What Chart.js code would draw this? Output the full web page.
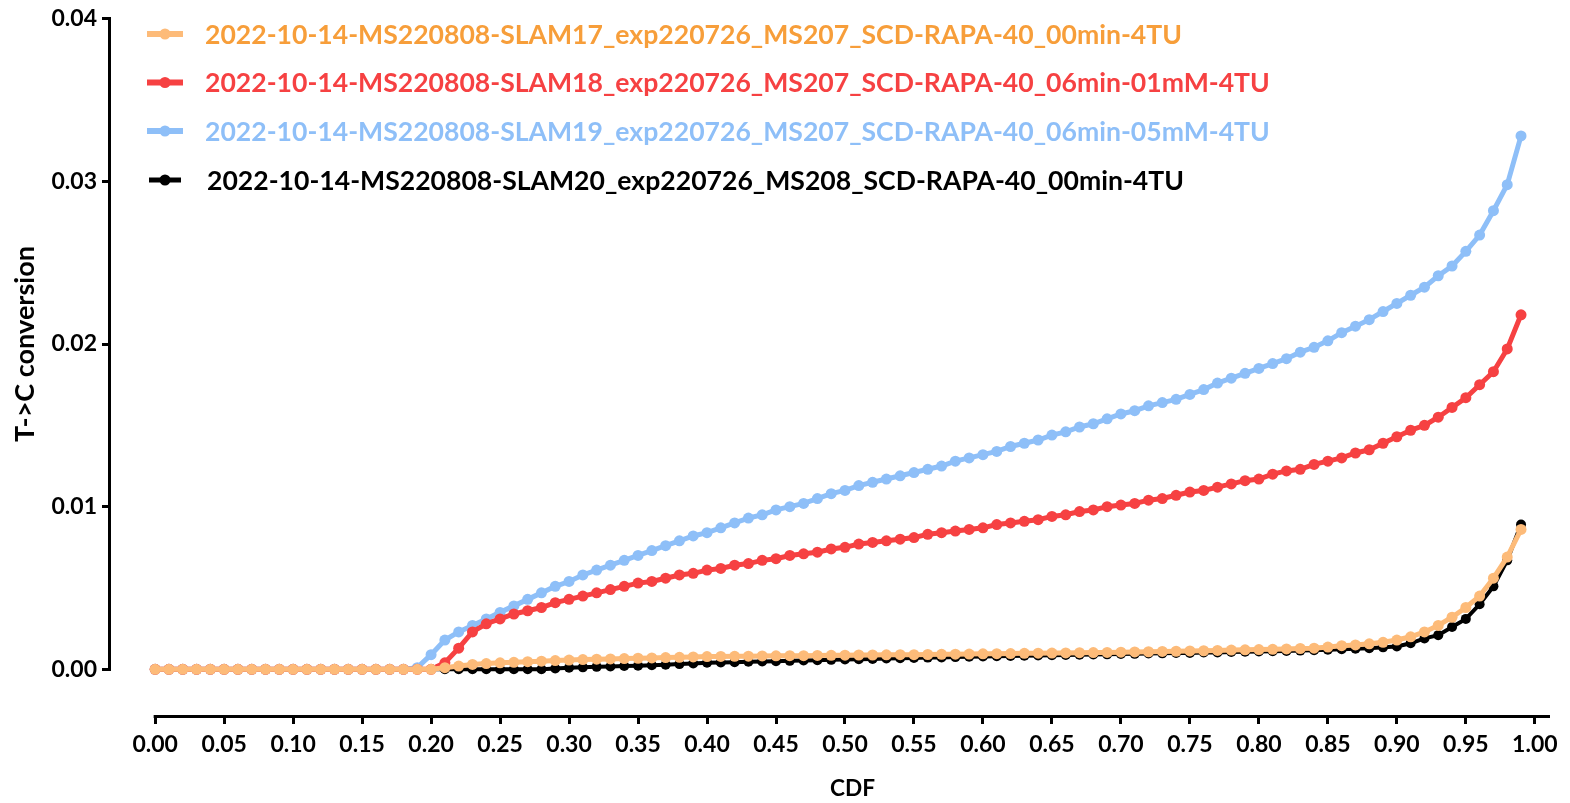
<!DOCTYPE html>
<html>
<head>
<meta charset="utf-8">
<script src="https://cdn.jsdelivr.net/npm/chart.js@4.4.0/dist/chart.umd.min.js"></script>
<style>
  html, body { margin: 0; padding: 0; background: #fff; }
  canvas { display: block; }
</style>
</head>
<body>
<canvas id="grafico" width="1570" height="803"></canvas>
<script>
// CDF positions (x)
const cdf = [
  0.00,0.01,0.02,0.03,0.04,0.05,0.06,0.07,0.08,0.09,
  0.10,0.11,0.12,0.13,0.14,0.15,0.16,0.17,0.18,0.19,
  0.20,0.21,0.22,0.23,0.24,0.25,0.26,0.27,0.28,0.29,
  0.30,0.31,0.32,0.33,0.34,0.35,0.36,0.37,0.38,0.39,
  0.40,0.41,0.42,0.43,0.44,0.45,0.46,0.47,0.48,0.49,
  0.50,0.51,0.52,0.53,0.54,0.55,0.56,0.57,0.58,0.59,
  0.60,0.61,0.62,0.63,0.64,0.65,0.66,0.67,0.68,0.69,
  0.70,0.71,0.72,0.73,0.74,0.75,0.76,0.77,0.78,0.79,
  0.80,0.81,0.82,0.83,0.84,0.85,0.86,0.87,0.88,0.89,
  0.90,0.91,0.92,0.93,0.94,0.95,0.96,0.97,0.98,0.99
];

// T->C conversion per sample
const slam17 = [
  0,0,0,0,0,0,0,0,0,0,
  0,0,0,0,0,0,0,0,0,0,
  0,0.0001,0.0002,0.0003,0.00035,0.0004,0.00043,0.00047,0.0005,0.00054,
  0.00057,0.0006,0.00062,0.00064,0.00066,0.00068,0.0007,0.00072,0.00074,0.00076,
  0.00078,0.00079,0.0008,0.00081,0.00082,0.00083,0.00084,0.00084,0.00085,0.00086,
  0.00087,0.00088,0.00088,0.00089,0.0009,0.0009,0.00091,0.00092,0.00093,0.00094,
  0.00095,0.00096,0.00097,0.00098,0.00099,0.001,0.00101,0.00102,0.00103,0.00104,
  0.00105,0.00107,0.00108,0.0011,0.00111,0.00113,0.00114,0.00116,0.00118,0.0012,
  0.00121,0.00123,0.00125,0.00128,0.0013,0.00137,0.00145,0.0015,0.00157,0.00166,
  0.0018,0.002,0.0023,0.0027,0.0032,0.0038,0.0045,0.0056,0.0069,0.0086
];
const slam18 = [
  0,0,0,0,0,0,0,0,0,0,
  0,0,0,0,0,0,0,0,0,0,
  0,0.0004,0.0013,0.0023,0.0028,0.0031,0.0034,0.0036,0.0038,0.0041,
  0.0043,0.0045,0.0047,0.0049,0.0051,0.0053,0.0054,0.0056,0.0058,0.0059,
  0.0061,0.0062,0.0064,0.0065,0.0067,0.0068,0.0070,0.0071,0.0072,0.0074,
  0.0075,0.0077,0.0078,0.0079,0.0080,0.0081,0.0083,0.0084,0.0085,0.0086,
  0.0087,0.0089,0.0090,0.0091,0.0092,0.0094,0.0095,0.0097,0.0098,0.0100,
  0.0101,0.0102,0.0104,0.0105,0.0107,0.0109,0.0110,0.0112,0.0114,0.0116,
  0.0117,0.0120,0.0122,0.0123,0.0126,0.0128,0.0130,0.0133,0.0135,0.0139,
  0.0143,0.0147,0.0150,0.0155,0.0161,0.0167,0.0175,0.0183,0.0197,0.0218
];
const slam19 = [
  0,0,0,0,0,0,0,0,0,0,
  0,0,0,0,0,0,0,0,0,0.0001,
  0.0009,0.0018,0.0023,0.0027,0.0031,0.0035,0.0039,0.0043,0.0047,0.0051,
  0.0054,0.0058,0.0061,0.0064,0.0067,0.0070,0.0073,0.0076,0.0079,0.0082,
  0.0084,0.0087,0.0090,0.0093,0.0095,0.0098,0.0100,0.0102,0.0105,0.0108,
  0.0110,0.0113,0.0115,0.0117,0.0119,0.0121,0.0123,0.0125,0.0128,0.0130,
  0.0132,0.0134,0.0137,0.0139,0.0141,0.0144,0.0146,0.0149,0.0151,0.0154,
  0.0157,0.0159,0.0162,0.0164,0.0166,0.0169,0.0172,0.0176,0.0179,0.0182,
  0.0185,0.0188,0.0191,0.0195,0.0198,0.0202,0.0207,0.0211,0.0215,0.0220,
  0.0225,0.0230,0.0235,0.0242,0.0248,0.0257,0.0267,0.0282,0.0298,0.0328
];
const slam20 = [
  0,0,0,0,0,0,0,0,0,0,
  0,0,0,0,0,0,0,0,0,0,
  0,0,0,0,0,0,0,0,0,0.00005,
  0.0001,0.00012,0.00015,0.00017,0.0002,0.00022,0.00025,0.00028,0.00032,0.00036,
  0.0004,0.00042,0.00044,0.00046,0.00048,0.0005,0.00052,0.00054,0.00056,0.00058,
  0.0006,0.00062,0.00064,0.00066,0.00068,0.0007,0.00072,0.00073,0.00075,0.00077,
  0.00079,0.0008,0.00082,0.00083,0.00085,0.00086,0.00088,0.00089,0.00091,0.00092,
  0.00094,0.00095,0.00097,0.00098,0.001,0.00101,0.00103,0.00104,0.00106,0.00108,
  0.0011,0.00111,0.00113,0.00115,0.00117,0.0012,0.00123,0.00126,0.0013,0.00135,
  0.0014,0.0016,0.0019,0.0021,0.0026,0.0031,0.004,0.0051,0.0067,0.0089
];

const nomes = [
  '2022-10-14-MS220808-SLAM17_exp220726_MS207_SCD-RAPA-40_00min-4TU',
  '2022-10-14-MS220808-SLAM18_exp220726_MS207_SCD-RAPA-40_06min-01mM-4TU',
  '2022-10-14-MS220808-SLAM19_exp220726_MS207_SCD-RAPA-40_06min-05mM-4TU',
  '2022-10-14-MS220808-SLAM20_exp220726_MS208_SCD-RAPA-40_00min-4TU'
];

// tick labels
const xTicks = [0,0.05,0.10,0.15,0.20,0.25,0.30,0.35,0.40,0.45,0.50,0.55,0.60,0.65,0.70,0.75,0.80,0.85,0.90,0.95,1.00];
const yTicks = [0,0.01,0.02,0.03,0.04];

const FONTE = 'Lato, "Open Sans", sans-serif';

// cores: linha e texto da legenda
const estilos = [
  { cor: '#FDBB79', texto: '#F79E3A', largura: 5, raio: 5.5 },
  { cor: '#F64142', texto: '#F64142', largura: 5, raio: 5.5 },
  { cor: '#8EBFF8', texto: '#8EBFF8', largura: 5, raio: 5.5 },
  { cor: '#000000', texto: '#000000', largura: 4, raio: 5 }
];
const series = [slam17, slam18, slam19, slam20];

const datasets = series.map((vals, i) => ({
  label: nomes[i],
  data: cdf.map((x, j) => ({ x: x, y: vals[j] })),
  borderColor: estilos[i].cor,
  backgroundColor: estilos[i].cor,
  pointBackgroundColor: estilos[i].cor,
  pointBorderWidth: 0,
  pointRadius: estilos[i].raio,
  borderWidth: estilos[i].largura,
  tension: 0
}));

// ajusta o tamanho da fonte para uma largura alvo
function fonteAjustada(c, texto, largura) {
  c.font = 'bold 20px ' + FONTE;
  const tam = 20 * largura / c.measureText(texto).width;
  return 'bold ' + tam.toFixed(2) + 'px ' + FONTE;
}

// eixos desenhados à mão (estilo Prism, com eixo x deslocado)
const eixos = {
  id: 'eixos',
  afterDraw(chart) {
    const c = chart.ctx;
    const xs = chart.scales.x, ys = chart.scales.y;
    const area = chart.chartArea;
    c.save();
    c.strokeStyle = '#000';
    c.lineWidth = 3;
    c.lineCap = 'butt';
    // y axis
    c.beginPath();
    c.moveTo(area.left - 1.5, ys.getPixelForValue(0.04) - 1.5);
    c.lineTo(area.left - 1.5, ys.getPixelForValue(0) + 1.5);
    c.stroke();
    // x axis
    c.beginPath();
    c.moveTo(xs.getPixelForValue(0) - 1.5, area.bottom + 1.5);
    c.lineTo(area.right, area.bottom + 1.5);
    c.stroke();

    // titulos
    c.fillStyle = '#000';
    c.textAlign = 'center';
    c.textBaseline = 'middle';
    c.font = fonteAjustada(c, 'CDF', 45);
    c.fillText('CDF', (xs.getPixelForValue(0) + area.right) / 2, 789);
    c.font = fonteAjustada(c, 'T->C conversion', 196);
    c.translate(25, (ys.getPixelForValue(0) + ys.getPixelForValue(0.04)) / 2);
    c.rotate(-Math.PI / 2);
    c.fillText('T->C conversion', 0, 0);
    c.restore();
  }
};

// legenda dentro da área do gráfico
const legenda = {
  id: 'legenda',
  afterDraw(chart) {
    const c = chart.ctx;
    c.save();
    c.font = fonteAjustada(c, nomes[0], 977);
    c.textBaseline = 'middle';
    c.textAlign = 'left';
    const linhas = [34, 82.5, 131, 180];
    nomes.forEach((nome, i) => {
      const y = linhas[i];
      const e = estilos[i];
      c.strokeStyle = e.cor;
      c.fillStyle = e.cor;
      c.lineWidth = i === 3 ? 5 : 6;
      c.beginPath();
      c.moveTo(i === 3 ? 149 : 147, y);
      c.lineTo(i === 3 ? 181 : 183, y);
      c.stroke();
      c.beginPath();
      c.arc(165, y, 5.5, 0, Math.PI * 2);
      c.fill();
      c.fillStyle = e.texto;
      c.fillText(nome, i === 3 ? 207 : 205, y + 1);
    });
    c.restore();
  }
};

new Chart(document.getElementById('grafico'), {
  type: 'line',
  data: { datasets: datasets },
  plugins: [eixos, legenda],
  options: {
    responsive: false,
    animation: false,
    layout: { padding: { top: 15, right: 20, left: 0, bottom: 0 } },
    plugins: { legend: { display: false }, tooltip: { enabled: false } },
    scales: {
      x: {
        type: 'linear',
        min: -0.032,
        max: 1.011,
        afterBuildTicks: s => { s.ticks = xTicks.map(v => ({ value: v })); },
        afterFit: s => { s.height = 88; },
        border: { display: false },
        grid: { display: true, drawOnChartArea: false, drawTicks: true, tickLength: 9, tickWidth: 3, tickColor: '#000', lineWidth: 3, color: '#000' },
        ticks: {
          padding: 7,
          maxRotation: 0,
          autoSkip: false,
          color: '#000',
          font: { family: FONTE, size: 23, weight: 'bold' },
          callback: v => v.toFixed(2)
        }
      },
      y: {
        type: 'linear',
        min: -0.00281,
        max: 0.04,
        afterBuildTicks: s => { s.ticks = yTicks.map(v => ({ value: v })); },
        afterFit: s => { s.width = 111; },
        border: { display: false },
        grid: { display: true, drawOnChartArea: false, drawTicks: true, tickLength: 9, tickWidth: 3, tickColor: '#000', lineWidth: 3, color: '#000' },
        ticks: {
          padding: 5,
          color: '#000',
          font: { family: FONTE, size: 23, weight: 'bold' },
          callback: v => v.toFixed(2)
        }
      }
    }
  }
});
</script>
</body>
</html>
